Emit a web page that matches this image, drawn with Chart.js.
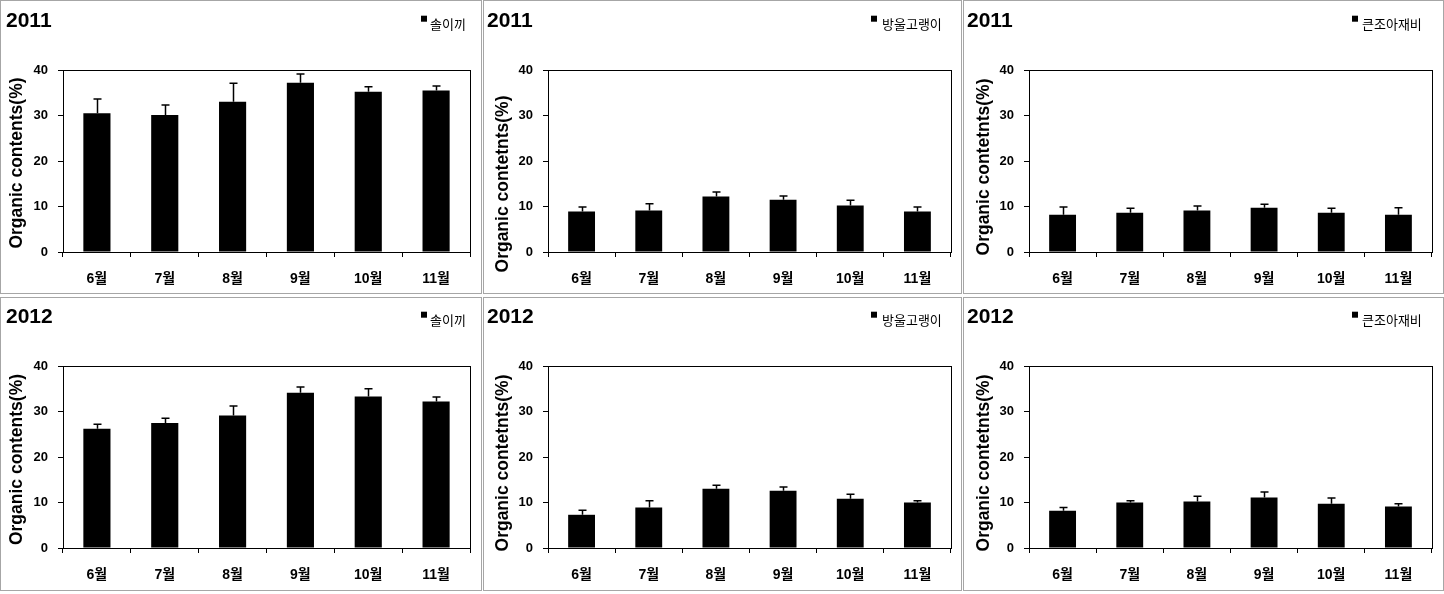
<!DOCTYPE html>
<html><head><meta charset="utf-8">
<script src="https://cdn.jsdelivr.net/npm/chart.js@4.4.1/dist/chart.umd.min.js"></script>
<style>
html,body{margin:0;padding:0;background:#fff;}
body{width:1444px;height:594px;position:relative;overflow:hidden;}
.panel{position:absolute;}
.panel canvas{position:absolute;left:0;top:0;}
.frame{position:absolute;left:0;top:0;right:0;bottom:0;border:1px solid #a6a6a6;box-sizing:border-box;pointer-events:none;}
</style></head><body>
<script>
// ---------- data ----------
const months = ['6월', '7월', '8월', '9월', '10월', '11월'];
const yTicks = [0, 10, 20, 30, 40];
const years = ['2011', '2011', '2011', '2012', '2012', '2012'];
const species = ['솔이끼', '방울고랭이', '큰조아재비', '솔이끼', '방울고랭이', '큰조아재비'];
const yTitles = ['Organic contents(%)', 'Organic contetnts(%)', 'Organic contetnts(%)',
                 'Organic contents(%)', 'Organic contetnts(%)', 'Organic contetnts(%)'];

const moss2011      = [30.5, 30.1, 33.0, 37.2, 35.2, 35.5];
const moss2011Err   = [3.1, 2.2, 4.1, 1.9, 1.1, 1.0];
const sedge2011     = [8.9, 9.1, 12.2, 11.5, 10.2, 8.9];
const sedge2011Err  = [1.0, 1.5, 1.0, 0.8, 1.2, 1.0];
const grass2011     = [8.2, 8.6, 9.1, 9.7, 8.6, 8.2];
const grass2011Err  = [1.7, 1.0, 1.0, 0.8, 1.0, 1.5];
const moss2012      = [26.2, 27.5, 29.1, 34.1, 33.3, 32.2];
const moss2012Err   = [1.0, 1.0, 2.1, 1.3, 1.7, 1.0];
const sedge2012     = [7.3, 8.9, 13.0, 12.6, 10.8, 10.0];
const sedge2012Err  = [1.0, 1.5, 0.8, 0.8, 1.0, 0.4];
const grass2012     = [8.2, 10.0, 10.2, 11.1, 9.7, 9.1];
const grass2012Err  = [0.7, 0.4, 1.2, 1.2, 1.3, 0.6];

const values = [moss2011, sedge2011, grass2011, moss2012, sedge2012, grass2012];
const errors = [moss2011Err, sedge2011Err, grass2011Err, moss2012Err, sedge2012Err, grass2012Err];

// ---------- layout (positions only) ----------
const layouts = [
  {left:0,   top:0,   w:482, h:294, pl:63, pr:470, pt:70, pb:252, tx:6, ty:26.7, lx:421, ly:15.7, ltx:430, yx:17.5, yy:163},
  {left:483, top:0,   w:479, h:294, pl:65, pr:468, pt:70, pb:252, tx:4, ty:26.7, lx:388, ly:15.7, ltx:399, yx:20,   yy:184},
  {left:963, top:0,   w:481, h:294, pl:66, pr:469, pt:70, pb:252, tx:4, ty:26.7, lx:389, ly:15.7, ltx:399, yx:21,   yy:167},
  {left:0,   top:297, w:482, h:294, pl:63, pr:470, pt:69, pb:251, tx:6, ty:25.7, lx:421, ly:14.7, ltx:430, yx:17.5, yy:162.5},
  {left:483, top:297, w:479, h:294, pl:65, pr:468, pt:69, pb:251, tx:4, ty:25.7, lx:388, ly:14.7, ltx:399, yx:20,   yy:166},
  {left:963, top:297, w:481, h:294, pl:66, pr:469, pt:69, pb:251, tx:4, ty:25.7, lx:389, ly:14.7, ltx:399, yx:21,   yy:166}
];

const FAM = "'Liberation Sans', 'Noto Sans CJK KR', Arial, sans-serif";
Chart.defaults.font.family = FAM;
Chart.defaults.color = '#000';

const decor = {
  id: 'decor',
  afterDatasetsDraw(chart, args, o) {
    const ctx = chart.ctx;
    const ys = chart.scales.y;
    const meta = chart.getDatasetMeta(0);
    const errs = chart.data.datasets[0].errors;
    const vals = chart.data.datasets[0].data;
    ctx.save();
    ctx.strokeStyle = '#000';
    ctx.lineWidth = 1.5;
    meta.data.forEach((el, i) => {
      const x = Math.round(el.x) + 0.5;
      const y0 = el.y;
      const y1 = ys.getPixelForValue(vals[i] + errs[i]);
      ctx.beginPath();
      ctx.moveTo(x, y0);
      ctx.lineTo(x, y1);
      ctx.moveTo(x - 4, y1);
      ctx.lineTo(x + 4, y1);
      ctx.stroke();
    });
    ctx.restore();
  },
  afterDraw(chart, args, o) {
    const ctx = chart.ctx;
    const a = chart.chartArea;
    ctx.save();
    ctx.strokeStyle = '#000';
    ctx.lineWidth = 1;
    ctx.strokeRect(Math.round(a.left) + 0.5, Math.round(a.top) + 0.5,
                   Math.round(a.right) - Math.round(a.left), Math.round(a.bottom) - Math.round(a.top));
    // y axis title
    ctx.save();
    ctx.translate(o.yx, o.yy);
    ctx.rotate(-Math.PI / 2);
    ctx.font = "bold 17.5px " + FAM;
    ctx.fillStyle = '#000';
    ctx.textAlign = 'center';
    ctx.textBaseline = 'middle';
    ctx.fillText(o.yTitle, 0, 0);
    ctx.restore();
    // panel title
    ctx.font = "bold 21px " + FAM;
    ctx.fillStyle = '#000';
    ctx.textAlign = 'left';
    ctx.textBaseline = 'alphabetic';
    ctx.fillText(o.title, o.tx, o.ty);
    // legend
    ctx.fillRect(o.lx, o.ly, 6, 6);
    ctx.font = "13px 'Noto Sans CJK KR', " + FAM;
    ctx.textBaseline = 'middle';
    ctx.fillText(o.legend, o.ltx, o.ly + 8);
    ctx.restore();
  }
};

layouts.forEach((L, k) => {
  const div = document.createElement('div');
  div.className = 'panel';
  div.style.left = L.left + 'px';
  div.style.top = L.top + 'px';
  div.style.width = L.w + 'px';
  div.style.height = L.h + 'px';
  const cv = document.createElement('canvas');
  cv.width = L.w; cv.height = L.h;
  cv.style.width = L.w + 'px'; cv.style.height = L.h + 'px';
  div.appendChild(cv);
  const fr = document.createElement('div');
  fr.className = 'frame';
  div.appendChild(fr);
  document.body.appendChild(div);

  new Chart(cv, {
    type: 'bar',
    data: {
      labels: months,
      datasets: [{
        data: values[k],
        errors: errors[k],
        backgroundColor: '#000',
        borderWidth: 0,
        barPercentage: 0.4,
        categoryPercentage: 1.0
      }]
    },
    options: {
      responsive: false,
      animation: false,
      devicePixelRatio: 1,
      layout: { padding: { left: 0, top: L.pt, right: L.w - L.pr, bottom: 0 } },
      plugins: {
        legend: { display: false },
        tooltip: { enabled: false },
        decor: {
          yTitle: yTitles[k], yx: L.yx, yy: L.yy,
          title: years[k], tx: L.tx, ty: L.ty,
          legend: species[k], lx: L.lx, ly: L.ly, ltx: L.ltx
        }
      },
      scales: {
        x: {
          offset: true,
          grid: { display: true, drawOnChartArea: false, drawTicks: true, tickLength: 5, color: '#000', offset: true, lineWidth: 1 },
          border: { display: true, color: '#000', width: 1 },
          ticks: { color: '#000', font: { size: 14, weight: 'bold' }, padding: 14, maxRotation: 0, autoSkip: false },
          afterFit: (s) => { s.height = L.h - L.pb; }
        },
        y: {
          min: 0, max: 40,
          afterBuildTicks: (s) => { s.ticks = yTicks.map(v => ({ value: v })); },
          grid: { display: true, drawOnChartArea: false, drawTicks: true, tickLength: 5, color: '#000', lineWidth: 1 },
          border: { display: true, color: '#000', width: 1 },
          ticks: { color: '#000', font: { size: 13, weight: 'bold' }, padding: 10 },
          afterFit: (s) => { s.width = L.pl; }
        }
      }
    },
    plugins: [decor]
  });
});
</script>
</body></html>
